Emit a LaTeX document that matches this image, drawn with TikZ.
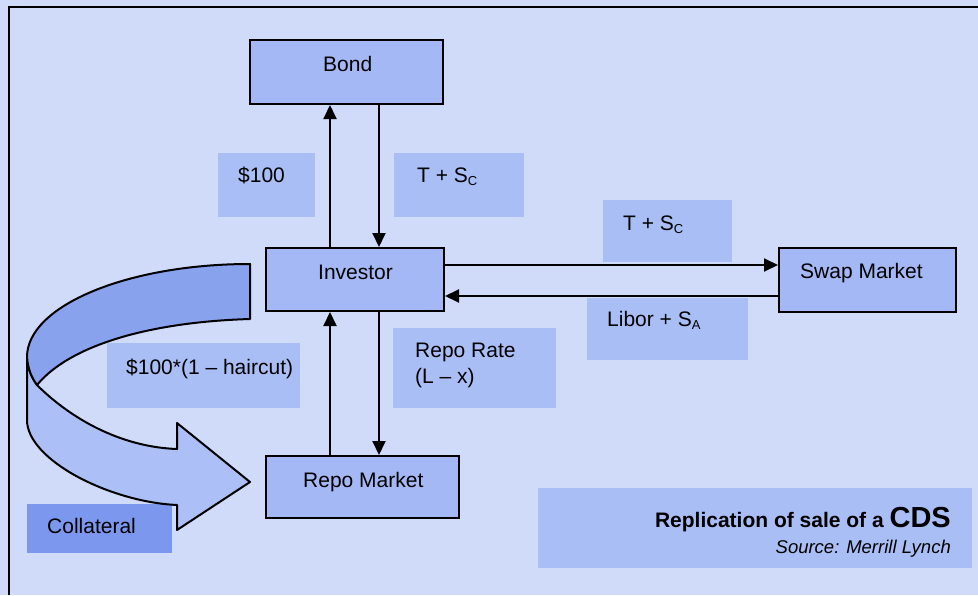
\documentclass[tikz,border=0pt]{standalone}
\usepackage{fontspec}
\setmainfont{Liberation Sans}
\usetikzlibrary{arrows.meta}
\definecolor{bgblue}{RGB}{208,219,250}
\definecolor{boxblue}{RGB}{163,184,245}
\definecolor{lblblue}{RGB}{170,190,246}
\definecolor{colblue}{RGB}{124,152,238}
\definecolor{darkband}{RGB}{137,162,238}
\definecolor{lightband}{RGB}{172,192,247}
\newcommand{\subtxt}[1]{\raisebox{-3pt}{\fontsize{13}{13}\selectfont #1}}
\begin{document}
\begin{tikzpicture}[x=1pt,y=-1pt,
  box/.style={draw=black, line width=2pt, fill=boxblue, inner sep=0pt},
  lbl/.style={fill=lblblue, inner sep=0pt},
  txt/.style={anchor=base west, inner sep=0pt, font=\fontsize{21}{25}\selectfont},
  arr/.style={line width=2pt, -{Triangle[length=14pt,width=13pt]}},
  band/.style={line width=2pt, line join=round}]
\useasboundingbox (0,0) rectangle (978,595);
\fill[bgblue] (0,0) rectangle (978,595);
\draw[line width=2pt] (9,595) -- (9,7) -- (978,7);

% label backgrounds
\node[lbl, minimum width=97pt, minimum height=64pt] (l100) at (266.5,184.5) {};
\node[lbl, minimum width=130pt, minimum height=64pt] (ltsc) at (459,184.5) {};
\node[lbl, minimum width=129pt, minimum height=62pt] (ltsc2) at (667.5,231) {};
\node[lbl, minimum width=161pt, minimum height=62pt] (llib) at (667.5,329) {};
\node[lbl, minimum width=163pt, minimum height=80pt] (lrepo) at (474.5,368) {};
\node[lbl, minimum width=193pt, minimum height=65pt] (lhair) at (203.5,375.5) {};
\node[fill=colblue, inner sep=0pt, minimum width=145pt, minimum height=49pt] (lcol) at (99.5,528.5) {};
\node[lbl, minimum width=434pt, minimum height=80pt] (lrep) at (755,528) {};

% curved arrow
\path[band, fill=lightband, draw=black] (37,385) .. controls (70,418) and (120,447) .. (177,449)
  -- (177,423) -- (250,482) -- (177,530) -- (177,505)
  .. controls (110,502) and (27,460) .. (27,420) -- (27,357)
  .. controls (28,370) and (32,378) .. (37,385) -- cycle;
\path[band, fill=darkband, draw=black] (250,264) .. controls (127,264) and (27,306) .. (27,357)
  .. controls (28,370) and (32,378) .. (37,385)
  .. controls (70,345) and (150,322) .. (250,319) -- cycle;

% main boxes
\node[box, minimum width=193pt, minimum height=64pt] (bond) at (346.5,72) {};
\node[box, minimum width=178pt, minimum height=63pt] (investor) at (355,279.5) {};
\node[box, minimum width=177pt, minimum height=64pt] (swap) at (867.5,280) {};
\node[box, minimum width=193pt, minimum height=62pt] (repo) at (362.5,487) {};

% connector guides
\coordinate (cL) at (330,0);
\coordinate (cR) at (379,0);
\coordinate (rA) at (0,265);
\coordinate (rB) at (0,296);

\draw[arr] (investor.north -| cL) -- (bond.south -| cL);
\draw[arr] (bond.south -| cR) -- (investor.north -| cR);
\draw[arr] (repo.north -| cL) -- (investor.south -| cL);
\draw[arr] (investor.south -| cR) -- (repo.north -| cR);
\draw[arr] (investor.east |- rA) -- (swap.west |- rA);
\draw[arr] (swap.west |- rB) -- (investor.east |- rB);

% texts
\node[txt] (tbond) at (323,71) {Bond};
\node[txt] (tinv) at (318,279) {Investor};
\node[txt] (tswap) at (800,278) {Swap Market};
\node[txt] (trepo) at (303,487) {Repo Market};
\node[txt] (t100) at (238,182) {\$100};
\node[txt] (ttsc) at (417,182) {T + S\subtxt{C}};
\node[txt] (ttsc2) at (623,230) {T + S\subtxt{C}};
\node[txt] (tlib) at (607,326) {Libor + S\subtxt{A}};
\node[txt] (trr1) at (415,357) {Repo Rate};
\node[txt] (trr2) at (415,383) {(L – x)};
\node[txt] (thair) at (126,374) {\$100*(1 – haircut)};
\node[txt] (tcol) at (47,533) {Collateral};
\node[anchor=base east, inner sep=0pt] (trep) at (951,527)
  {\fontsize{21}{25}\selectfont\bfseries Replication of sale of a \fontsize{29}{32}\selectfont CDS};
\node[anchor=base east, inner sep=0pt] (tsrc) at (951,553)
  {\fontsize{18.5}{22}\selectfont\itshape Source: Merrill Lynch};
\end{tikzpicture}
\end{document}
